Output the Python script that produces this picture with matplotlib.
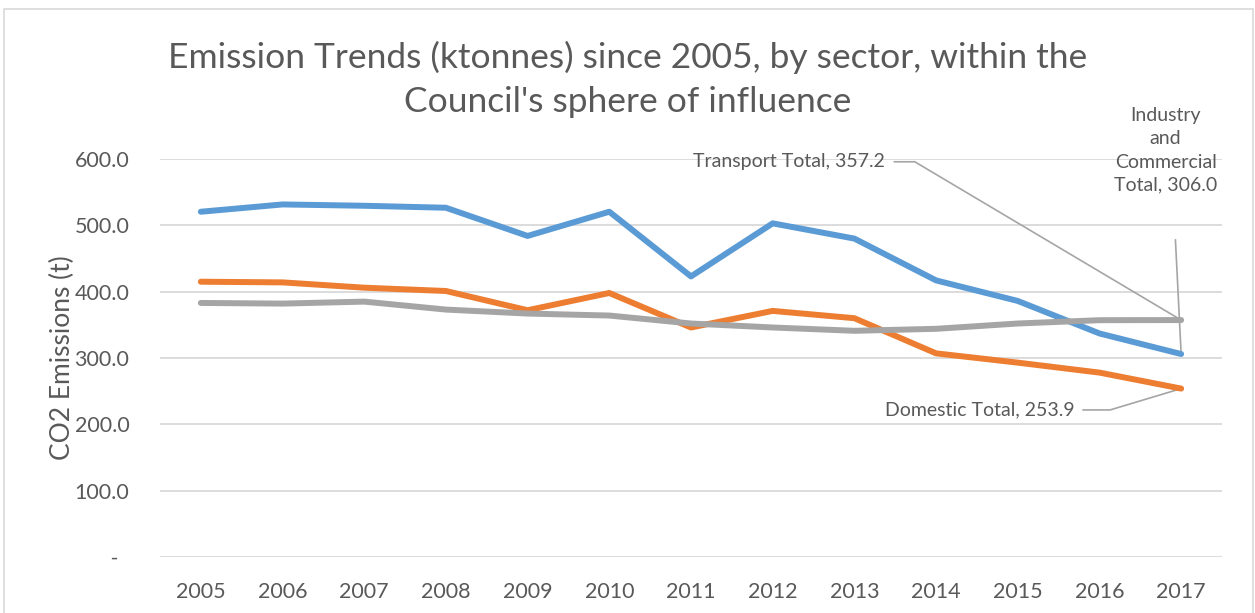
import matplotlib
matplotlib.use("Agg")
import matplotlib.pyplot as plt
from matplotlib.patches import Rectangle
from matplotlib.ticker import FuncFormatter

plt.rcParams['font.family'] = ['Lato', 'DejaVu Sans']

years = ['2005', '2006', '2007', '2008', '2009', '2010', '2011',
         '2012', '2013', '2014', '2015', '2016', '2017']
industry = [520.5, 531.5, 529.5, 526.5, 484.0, 520.5, 423.0,
            503.0, 480.0, 417.0, 386.0, 337.0, 306.0]
domestic = [415.0, 414.0, 406.0, 401.0, 372.0, 398.0, 346.0,
            371.0, 360.0, 307.0, 293.0, 278.0, 253.9]
transport = [383.0, 382.0, 385.0, 373.0, 367.0, 364.0, 352.0,
             346.0, 341.0, 344.0, 352.0, 357.0, 357.2]

TXT = '#595959'
GRID = '#D9D9D9'

fig = plt.figure(figsize=(12.55, 6.13), dpi=100)
ax = fig.add_axes([160 / 1255, 1 - 557 / 613, 1062 / 1255, 398 / 613])

x = list(range(len(years)))
ax.plot(x, industry, color='#5B9BD5', lw=4.3, solid_capstyle='round',
        solid_joinstyle='round', zorder=3)
ax.plot(x, domestic, color='#ED7D31', lw=4.3, solid_capstyle='round',
        solid_joinstyle='round', zorder=3)
ax.plot(x, transport, color='#A5A5A5', lw=4.3, solid_capstyle='round',
        solid_joinstyle='round', zorder=3)

ax.set_xlim(-0.5, len(years) - 0.5)
ax.set_ylim(0, 600)
ax.set_xticks(x)
ax.set_xticklabels(years)
ax.set_yticks([0, 100, 200, 300, 400, 500, 600])
ax.yaxis.set_major_formatter(FuncFormatter(
    lambda v, p: ' -  ' if v == 0 else '%.1f' % v))
ax.tick_params(length=0, labelsize=15.5, labelcolor=TXT)
ax.tick_params(axis='x', pad=18)
ax.tick_params(axis='y', pad=22)
ax.grid(axis='y', color=GRID, lw=1.3)
ax.set_axisbelow(True)
for s in ax.spines.values():
    s.set_visible(False)
ax.set_ylabel('CO2 Emissions (t)', fontsize=19, color=TXT, labelpad=0)

# data labels with leader lines (Excel style)
lbl = dict(fontsize=14, color=TXT)
lead = dict(color='#A5A5A5', lw=1.2, clip_on=False, zorder=2)

ax.text(8.37, 595.8, 'Transport Total, %.1f' % transport[-1],
        ha='right', va='center', **lbl)
ax.plot([8.49, 8.74, x[-1]], [595.8, 595.8, transport[-1]], **lead)

ax.text(11.81, 613, 'Industry\nand\nCommercial\nTotal, %.1f' % industry[-1],
        ha='center', va='center', linespacing=1.45, **lbl)
ax.plot([11.93, x[-1]], [478, industry[-1]], **lead)

ax.text(10.70, 221.7, 'Domestic Total, %.1f' % domestic[-1],
        ha='right', va='center', **lbl)
ax.plot([10.80, 11.13, x[-1]], [221.7, 221.7, domestic[-1]], **lead)

fig.text(628 / 1255, 1 - 57 / 613, 'Emission Trends (ktonnes) since 2005, by sector, within the',
         ha='center', va='center', fontsize=25.5, color=TXT)
fig.text(628 / 1255, 1 - 102 / 613, "Council's sphere of influence",
         ha='center', va='center', fontsize=25.5, color=TXT)

fig.patches.append(Rectangle((4 / 1255, -0.05), 1249 / 1255, 1.05 - 9 / 613,
                             transform=fig.transFigure, fill=False,
                             edgecolor=GRID, lw=1.2))

fig.savefig('out.png', dpi=100)
